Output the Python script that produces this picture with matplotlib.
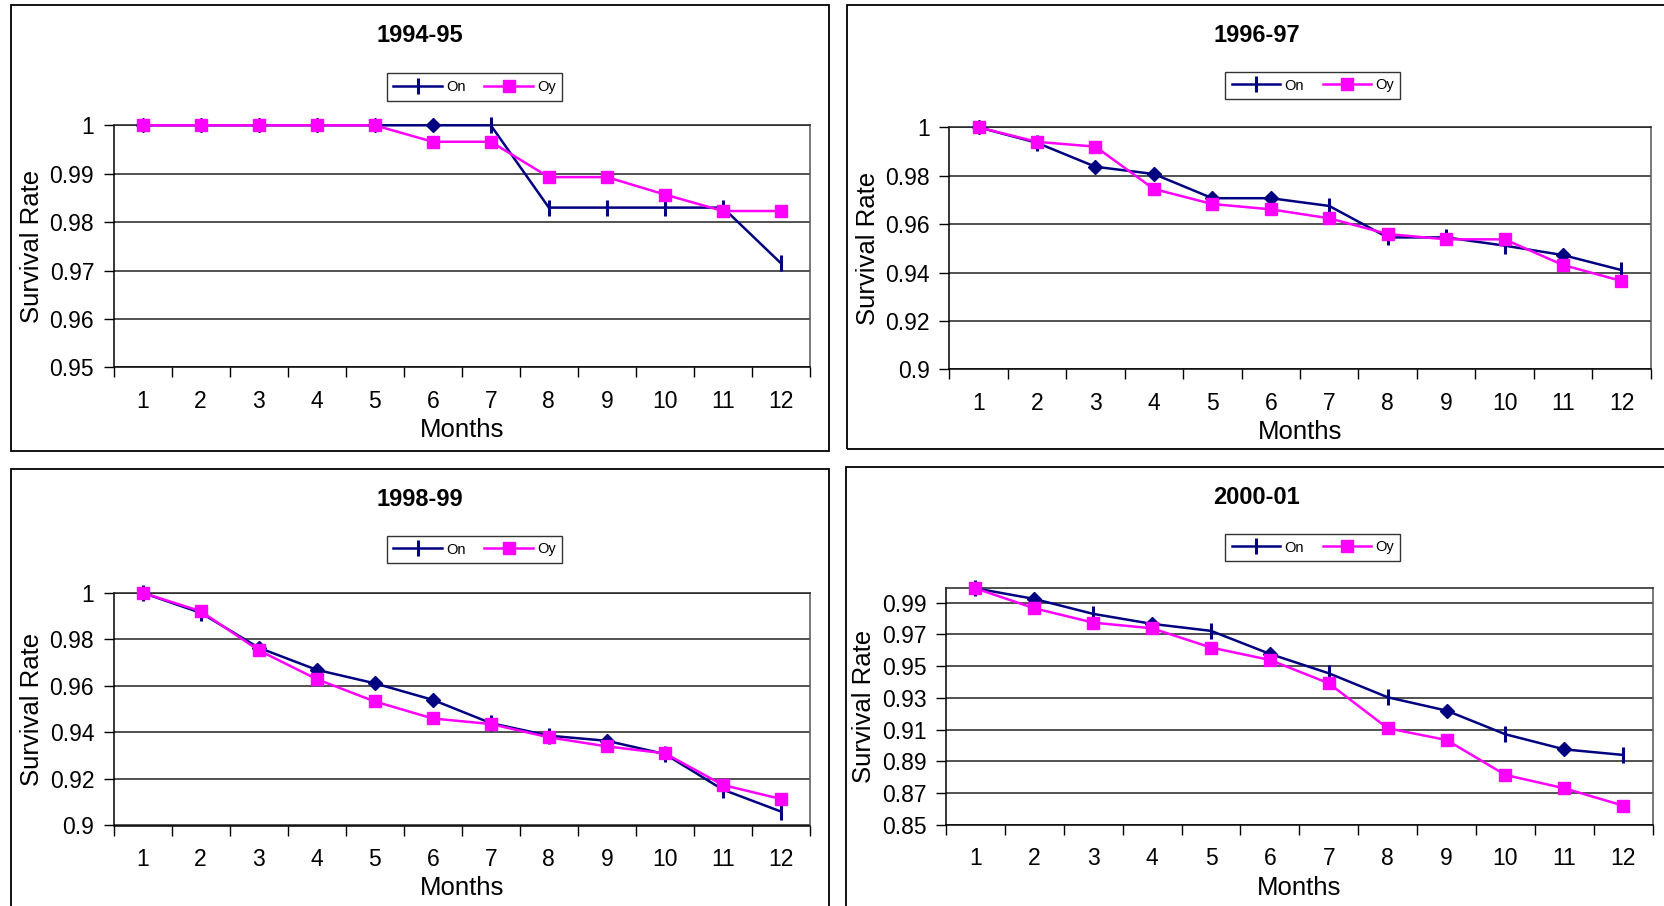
import matplotlib
matplotlib.use('Agg')
import matplotlib.pyplot as plt
from matplotlib.patches import Rectangle
from matplotlib.lines import Line2D

plt.rcParams['font.family'] = ['Liberation Sans', 'DejaVu Sans']

# ---------------- data ----------------
months = list(range(1, 13))
month_labels = [str(m) for m in months]
titles = ['1994-95', '1996-97', '1998-99', '2000-01']
series_names = ['On', 'Oy']

on_9495 = [1.0, 1.0, 1.0, 1.0, 1.0, 1.0, 1.0, 0.983, 0.983, 0.983, 0.983, 0.9715]
oy_9495 = [1.0, 1.0, 1.0, 1.0, 1.0, 0.9966, 0.9966, 0.9893, 0.9893, 0.9857, 0.9823, 0.9823]

on_9697 = [1.0, 0.9936, 0.9837, 0.9807, 0.9707, 0.9707, 0.9675, 0.9545, 0.9545, 0.9511, 0.9472, 0.9410]
oy_9697 = [1.0, 0.9940, 0.9920, 0.9745, 0.9683, 0.9661, 0.9624, 0.9559, 0.9537, 0.9537, 0.9431, 0.9365]

on_9899 = [1.0, 0.9914, 0.9764, 0.9669, 0.9611, 0.9540, 0.9440, 0.9386, 0.9364, 0.9307, 0.9154, 0.9060]
oy_9899 = [1.0, 0.9921, 0.9753, 0.9629, 0.9533, 0.9460, 0.9436, 0.9379, 0.9340, 0.9310, 0.9174, 0.9114]

on_0001 = [0.999, 0.9923, 0.9829, 0.9766, 0.9722, 0.9577, 0.9455, 0.9304, 0.9220, 0.9071, 0.8976, 0.8941]
oy_0001 = [0.999, 0.9864, 0.9774, 0.9738, 0.9617, 0.9539, 0.9392, 0.9109, 0.9035, 0.8815, 0.8731, 0.8622]

yticks_9495 = [0.95, 0.96, 0.97, 0.98, 0.99, 1.0]
ylabels_9495 = ['0.95', '0.96', '0.97', '0.98', '0.99', '1']
yticks_9699 = [0.90, 0.92, 0.94, 0.96, 0.98, 1.0]
ylabels_9699 = ['0.9', '0.92', '0.94', '0.96', '0.98', '1']
yticks_0001 = [0.85, 0.87, 0.89, 0.91, 0.93, 0.95, 0.97, 0.99]
ylabels_0001 = ['0.85', '0.87', '0.89', '0.91', '0.93', '0.95', '0.97', '0.99']

# marker glyph drawn at each "On" point (style)
on_marks = [
    ['D', 'D', 'D', 'D', 'D', 'D', '|', '|', '|', '|', '|', '|'],
    ['D', '|', 'D', 'D', 'D', 'D', '|', '|', '|', '|', 'D', '|'],
    ['|', '|', 'D', 'D', 'D', 'D', '|', '|', 'D', '|', '|', '|'],
    ['|', 'D', '|', 'D', '|', 'D', '|', '|', 'D', '|', 'D', '|'],
]

# ---------------- layout ----------------
W, H = 1665, 906
fig = plt.figure(figsize=(W / 100, H / 100), dpi=100)

NAVY = '#000080'
MAG = '#FF00FF'

panels = [
    dict(on=on_9495, oy=oy_9495, yt=yticks_9495, yl=ylabels_9495, ylim=(0.95, 1.0),
         ax=(113.6, 810, 125.3, 367.4), frame=(10.6, 829, 5, 451),
         title_xy=(419.5, 35), leg_xy=(474.6, 87)),
    dict(on=on_9697, oy=oy_9697, yt=yticks_9699, yl=ylabels_9699, ylim=(0.9, 1.0),
         ax=(949.3, 1650.7, 127.3, 369.3), frame=(847, 1680, 5, 449),
         title_xy=(1257, 35), leg_xy=(1312.8, 85.5)),
    dict(on=on_9899, oy=oy_9899, yt=yticks_9699, yl=ylabels_9699, ylim=(0.9, 1.0),
         ax=(113.6, 810, 592.8, 825.5), frame=(10.6, 829, 469, 920),
         title_xy=(419.5, 499), leg_xy=(474.6, 549.5)),
    dict(on=on_0001, oy=oy_0001, yt=yticks_0001, yl=ylabels_0001, ylim=(0.85, 0.999),
         ax=(946, 1652.7, 588.3, 825), frame=(846, 1680, 467, 920),
         title_xy=(1257, 497), leg_xy=(1312.8, 547.5)),
]

for i, p in enumerate(panels):
    fx0, fx1, fy0, fy1 = p['frame']
    fig.patches.append(Rectangle((fx0 / W, 1 - fy1 / H), (fx1 - fx0) / W, (fy1 - fy0) / H,
                                 transform=fig.transFigure, fill=False,
                                 edgecolor='black', linewidth=1.3, zorder=0))
    x0, x1, y0, y1 = p['ax']
    ax = fig.add_axes([x0 / W, 1 - y1 / H, (x1 - x0) / W, (y1 - y0) / H])
    ax.set_xlim(0.5, 12.5)
    ax.set_ylim(*p['ylim'])
    ax.set_yticks(p['yt'])
    ax.set_yticklabels(p['yl'])
    ax.set_xticks(months)
    ax.set_xticklabels(month_labels)
    ax.set_xticks([m - 0.5 for m in months] + [12.5], minor=True)
    ax.tick_params(axis='x', which='major', length=0, labelsize=16.5, pad=16)
    ax.tick_params(axis='x', which='minor', length=7, width=1, direction='out')
    ax.tick_params(axis='y', length=7, width=1, direction='out', labelsize=16.5, pad=7)
    ax.yaxis.grid(True, color='#222222', linewidth=1.1)
    ax.set_axisbelow(True)
    for s in ax.spines.values():
        s.set_linewidth(1.1)
        s.set_color('black')
    ax.spines['right'].set_color('#555555')
    ax.spines['top'].set_color('#222222')

    ax.plot(months, p['on'], color=NAVY, linewidth=1.8, zorder=3, clip_on=False)
    for m, v, mk in zip(months, p['on'], on_marks[i]):
        if mk == 'D':
            ax.plot([m], [v], marker='D', markersize=7, color=NAVY, zorder=4, clip_on=False)
        else:
            ax.plot([m], [v], marker='|', markersize=11, markeredgewidth=2.2,
                    color=NAVY, zorder=4, clip_on=False)
    ax.plot(months, p['oy'], color=MAG, linewidth=1.8, marker='s', markersize=8,
            zorder=5, clip_on=False)

    ax.set_xlabel('Months', fontsize=18.5, labelpad=4)
    ax.set_ylabel('Survival Rate', fontsize=18.5, labelpad=4)

    tx, ty = p['title_xy']
    fig.text(tx / W, 1 - ty / H, titles[i], fontsize=17, fontweight='bold',
             ha='center', va='center')

    handles = [Line2D([], [], color=NAVY, linewidth=1.8, marker='|', markersize=11,
                      markeredgewidth=2.2),
               Line2D([], [], color=MAG, linewidth=1.8, marker='s', markersize=8)]
    lx, ly = p['leg_xy']
    leg = fig.legend(handles, series_names, loc='center',
                     bbox_to_anchor=(lx / W, 1 - ly / H), bbox_transform=fig.transFigure,
                     ncol=2, fontsize=10.5, handlelength=3.3, handletextpad=0.3,
                     columnspacing=1.3, frameon=True, fancybox=False, borderpad=0.45,
                     edgecolor='black')
    leg.get_frame().set_linewidth(1.0)

fig.savefig('out.png', dpi=100)
